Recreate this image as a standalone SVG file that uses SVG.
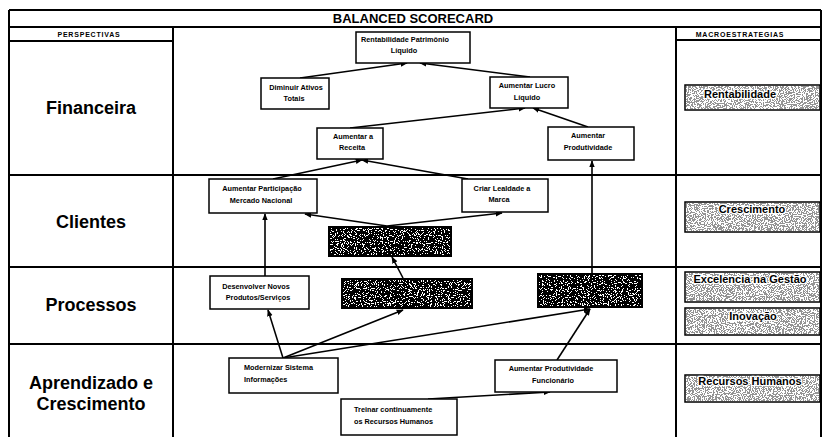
<svg xmlns="http://www.w3.org/2000/svg" width="822" height="437" viewBox="0 0 822 437">
  <style>
    .frame { fill: none; stroke: #000; stroke-width: 2; }
    .box { fill: #fff; stroke: #000; stroke-width: 1.5; }
    .dark { fill: #000; }
    .lightbox { fill: #fff; stroke: #000; stroke-width: 1.5; }
    .t { font-family: "Liberation Sans", Arial, sans-serif; font-weight: bold; font-size: 7.3px; fill: #000; }
    .title { font-family: "Liberation Sans", Arial, sans-serif; font-weight: bold; font-size: 13px; }
    .colhead { font-family: "Liberation Sans", Arial, sans-serif; font-weight: bold; font-size: 7px; letter-spacing: 0.8px; }
    .persp { font-family: "Liberation Sans", Arial, sans-serif; font-weight: bold; font-size: 18px; }
    .macro { font-family: "Liberation Sans", Arial, sans-serif; font-weight: bold; font-size: 11px; stroke: #fff; stroke-width: 2.5px; paint-order: stroke; stroke-linejoin: round; }
    .conn { fill: none; stroke: #000; stroke-width: 1.6; marker-end: url(#arrow); }
  </style>
  <defs>
    <marker id="arrow" viewBox="0 0 10 10" refX="9" refY="5" markerWidth="7" markerHeight="7" markerUnits="userSpaceOnUse" orient="auto">
      <path d="M0,1 L10,5 L0,9 Z" fill="#000"/>
    </marker>
    <!-- white speckle over black -->
    <filter id="speckWhite" x="0" y="0" width="1" height="1">
      <feTurbulence type="fractalNoise" baseFrequency="0.85" numOctaves="2" seed="5" result="n"/>
      <feColorMatrix in="n" type="matrix" values="0 0 0 0 1  0 0 0 0 1  0 0 0 0 1  1 0 0 0 0"/>
      <feComponentTransfer>
        <feFuncA type="discrete" tableValues="0 0 0 0 0 0 1 1 1 1"/>
      </feComponentTransfer>
    </filter>
    <!-- grey speckle over white -->
    <filter id="speckGrey" x="0" y="0" width="1" height="1">
      <feTurbulence type="fractalNoise" baseFrequency="0.9" numOctaves="2" seed="11" result="n"/>
      <feColorMatrix in="n" type="matrix" values="0 0 0 0 0.3  0 0 0 0 0.3  0 0 0 0 0.3  1 0 0 0 0"/>
      <feComponentTransfer>
        <feFuncA type="discrete" tableValues="0 0 0 0 0 1 1 1 1 1"/>
      </feComponentTransfer>
    </filter>
  </defs>

  <rect width="822" height="437" fill="#fff"/>

  <!-- table frame -->
  <g id="table">
    <path class="frame" d="M9,10 H821 M9,10 V437 M821,10 V437"/>
    <path class="frame" d="M9,27 H821"/>
    <path class="frame" d="M9,41 H173 M676,40 H821"/>
    <path class="frame" d="M173,27 V437 M676,27 V437"/>
    <path class="frame" d="M9,175 H821 M9,267 H821 M9,344 H821"/>
    <text class="title" x="413" y="23" text-anchor="middle">BALANCED SCORECARD</text>
    <text class="colhead" x="89" y="37" text-anchor="middle">PERSPECTIVAS</text>
    <text class="colhead" x="740" y="37" text-anchor="middle">MACROESTRATEGIAS</text>
  </g>

  <!-- perspectives -->
  <g id="perspectives">
    <text class="persp" x="91" y="114" text-anchor="middle">Financeira</text>
    <text class="persp" x="91" y="228" text-anchor="middle">Clientes</text>
    <text class="persp" x="91" y="311" text-anchor="middle">Processos</text>
    <text class="persp" x="91" y="389" text-anchor="middle">Aprendizado e</text>
    <text class="persp" x="91" y="410" text-anchor="middle">Crescimento</text>
  </g>

  <!-- connectors -->
  <g id="connectors">
    <line class="conn" x1="300" y1="78" x2="407" y2="63"/>
    <line class="conn" x1="530" y1="77" x2="420" y2="63"/>
    <line class="conn" x1="350" y1="128" x2="525" y2="108"/>
    <line class="conn" x1="588" y1="127" x2="533" y2="108"/>
    <line class="conn" x1="273" y1="179" x2="362" y2="160"/>
    <line class="conn" x1="468" y1="179" x2="362" y2="160"/>
    <line class="conn" x1="265" y1="276" x2="265" y2="214"/>
    <line class="conn" x1="387" y1="226" x2="305" y2="214"/>
    <line class="conn" x1="387" y1="226" x2="502" y2="213"/>
    <line class="conn" x1="403" y1="278" x2="392" y2="257"/>
    <line class="conn" x1="283" y1="358" x2="268" y2="310"/>
    <line class="conn" x1="283" y1="358" x2="403" y2="310"/>
    <line class="conn" x1="283" y1="358" x2="590" y2="309"/>
    <line class="conn" x1="557" y1="360" x2="590" y2="309"/>
    <line class="conn" x1="592" y1="273" x2="592" y2="161"/>
    <line class="conn" x1="428" y1="399" x2="550" y2="392"/>
  </g>

  <!-- objective nodes -->
  <g id="rentabilidade-pl">
    <rect class="box" x="356" y="32" width="114" height="31"/>
    <text class="t" x="405" y="42" text-anchor="middle">Rentabilidade  Patrimônio</text>
    <text class="t" x="404" y="53" text-anchor="middle">Líquido</text>
  </g>
  <g id="diminuir-ativos">
    <rect class="box" x="261" y="78" width="68" height="31"/>
    <text class="t" x="296" y="90" text-anchor="middle">Diminuir Ativos</text>
    <text class="t" x="294" y="101" text-anchor="middle">Totais</text>
  </g>
  <g id="aumentar-lucro">
    <rect class="box" x="490" y="77" width="78" height="31"/>
    <text class="t" x="527" y="88" text-anchor="middle">Aumentar Lucro</text>
    <text class="t" x="527" y="100" text-anchor="middle">Líquido</text>
  </g>
  <g id="aumentar-produtividade">
    <rect class="box" x="548" y="127" width="86" height="33"/>
    <text class="t" x="588" y="138" text-anchor="middle">Aumentar</text>
    <text class="t" x="588" y="150" text-anchor="middle">Produtividade</text>
  </g>
  <g id="aumentar-receita">
    <rect class="box" x="317" y="128" width="66" height="31"/>
    <text class="t" x="353" y="139" text-anchor="middle">Aumentar a</text>
    <text class="t" x="352" y="150" text-anchor="middle">Receita</text>
  </g>
  <g id="aumentar-participacao">
    <rect class="box" x="209" y="179" width="108" height="34"/>
    <text class="t" x="262" y="191" text-anchor="middle">Aumentar  Participação</text>
    <text class="t" x="261" y="203" text-anchor="middle">Mercado Nacional</text>
  </g>
  <g id="criar-lealdade">
    <rect class="box" x="462" y="179" width="86" height="33"/>
    <text class="t" x="502" y="191" text-anchor="middle">Criar Lealdade a</text>
    <text class="t" x="499" y="202" text-anchor="middle">Marca</text>
  </g>
  <g id="clientes-obj">
    <rect class="dark" x="328" y="226" width="124" height="31"/>
    <rect x="330" y="228" width="120" height="27" filter="url(#speckWhite)"/>
  </g>
  <g id="desenvolver-produtos">
    <rect class="box" x="210" y="276" width="99" height="33"/>
    <text class="t" x="256" y="289" text-anchor="middle">Desenvolver Novos</text>
    <text class="t" x="258" y="300" text-anchor="middle">Produtos/Serviços</text>
  </g>
  <g id="processos-obj-1">
    <rect class="dark" x="341" y="278" width="132" height="31"/>
    <rect x="343" y="280" width="128" height="27" filter="url(#speckWhite)"/>
  </g>
  <g id="processos-obj-2">
    <rect class="dark" x="537" y="273" width="106" height="35"/>
    <rect x="539" y="275" width="102" height="31" filter="url(#speckWhite)"/>
  </g>
  <g id="modernizar-sistema">
    <rect class="box" x="229" y="358" width="109" height="35"/>
    <text class="t" x="244" y="370">Modernizar Sistema</text>
    <text class="t" x="244" y="382">Informações</text>
  </g>
  <g id="produtividade-funcionario">
    <rect class="box" x="495" y="360" width="122" height="32"/>
    <text class="t" x="551" y="371" text-anchor="middle">Aumentar Produtividade</text>
    <text class="t" x="553" y="383" text-anchor="middle">Funcionário</text>
  </g>
  <g id="treinar-rh">
    <rect class="box" x="341" y="399" width="116" height="36"/>
    <text class="t" x="354" y="412">Treinar  continuamente</text>
    <text class="t" x="354" y="424">os Recursos Humanos</text>
  </g>

  <!-- macro-strategies -->
  <g id="macro-rentabilidade">
    <rect class="lightbox" x="685" y="85" width="135" height="25"/>
    <rect x="686" y="86" width="133" height="23" filter="url(#speckGrey)"/>
    <text class="macro" x="740" y="98" text-anchor="middle">Rentabilidade</text>
  </g>
  <g id="macro-crescimento">
    <rect class="lightbox" x="685" y="202" width="135" height="30"/>
    <rect x="686" y="203" width="133" height="28" filter="url(#speckGrey)"/>
    <text class="macro" x="752" y="213" text-anchor="middle">Crescimento</text>
  </g>
  <g id="macro-excelencia">
    <rect class="lightbox" x="685" y="272" width="135" height="30"/>
    <rect x="686" y="273" width="133" height="28" filter="url(#speckGrey)"/>
    <text class="macro" x="750" y="283" text-anchor="middle">Excelencia na Gestão</text>
  </g>
  <g id="macro-inovacao">
    <rect class="lightbox" x="685" y="308" width="135" height="27"/>
    <rect x="686" y="309" width="133" height="25" filter="url(#speckGrey)"/>
    <text class="macro" x="753" y="320" text-anchor="middle">Inovação</text>
  </g>
  <g id="macro-recursos-humanos">
    <rect class="lightbox" x="685" y="375" width="135" height="27"/>
    <rect x="686" y="376" width="133" height="25" filter="url(#speckGrey)"/>
    <text class="macro" x="750" y="385" text-anchor="middle">Recursos Humanos</text>
  </g>
</svg>
